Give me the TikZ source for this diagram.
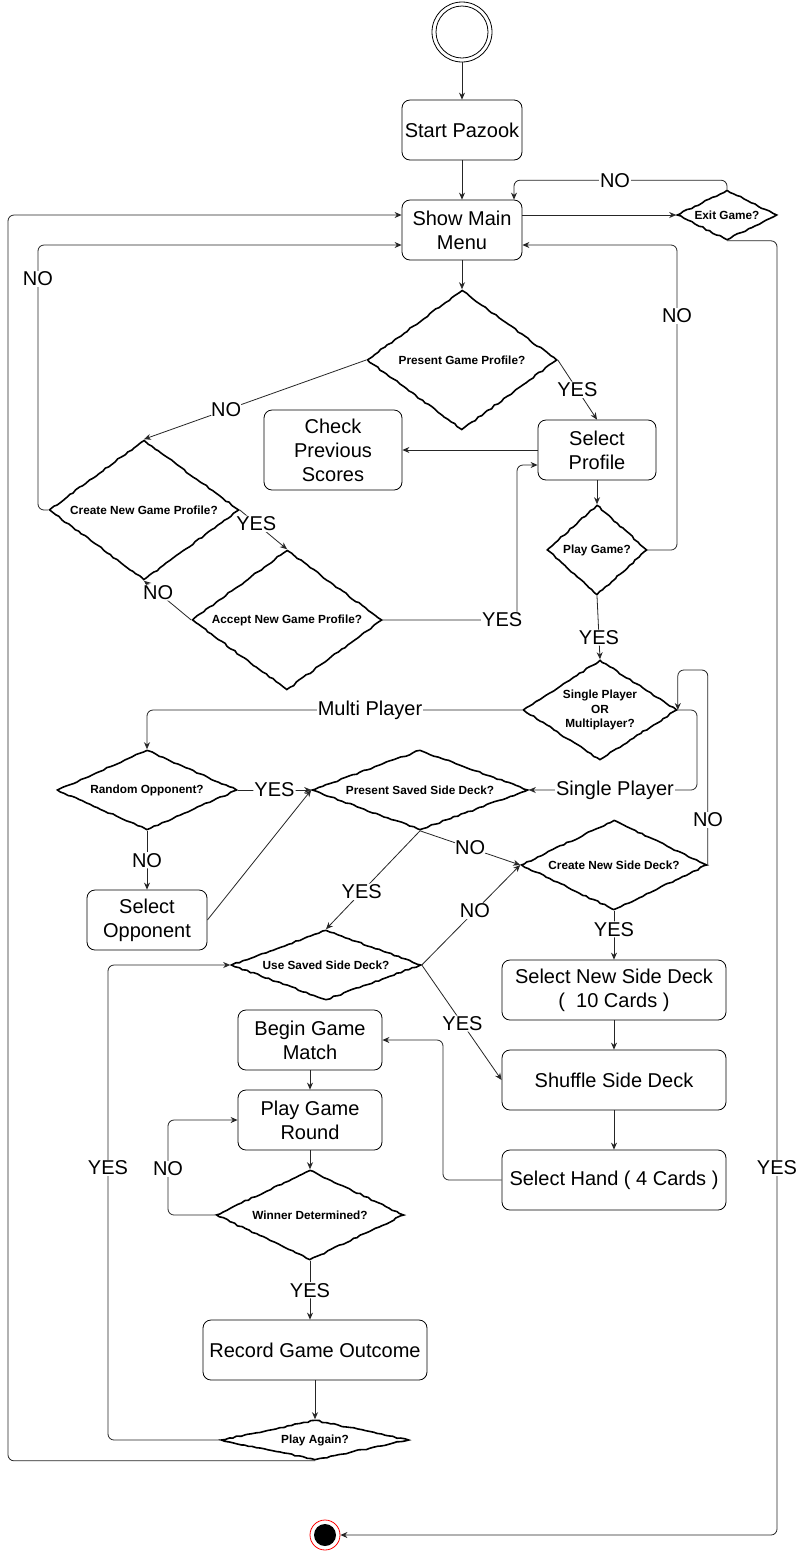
\documentclass[tikz,border=0pt]{standalone}
\usepackage{fontspec}
\setmainfont{Liberation Sans}
\usetikzlibrary{shapes.geometric,arrows.meta,decorations.pathmorphing,calc}
\begin{document}
\pgfmathsetseed{7}
\begin{tikzpicture}[x=1pt,y=-1pt,
  box/.style={draw, rounded corners=8pt, line width=0.8pt, align=center,
    font=\fontsize{20}{24}\selectfont, inner sep=0pt},
  dec/.style={diamond, draw, line width=1.6pt, align=center, inner sep=0pt,
    font=\fontsize{11.8}{14.5}\selectfont\bfseries, decorate,
    decoration={random steps,segment length=4pt,amplitude=0.75pt}},
  arr/.style={draw=black!85, line width=0.8pt, -{Stealth[length=7pt,width=6pt]}, rounded corners=6pt},
  lbl/.style={fill=white, inner sep=1pt, font=\fontsize{20}{24}\selectfont}]
\useasboundingbox (0,0) rectangle (798,1551);
\fill[white] (0,0) rectangle (798,1551);

% start / end
\node[circle, draw, line width=0.8pt, minimum size=60pt, inner sep=0pt] (start) at (462,32) {};
\draw[line width=0.8pt] (start.center) circle (26pt);
\node[circle, draw=red, line width=0.8pt, minimum size=30pt, inner sep=0pt, fill=white] (endc) at (325,1535) {};
\fill (endc.center) circle (11pt);

% nodes
\node[box, minimum width=120pt, minimum height=60pt] (pazook) at (462,130) {Start Pazook};
\node[box, minimum width=120pt, minimum height=60pt] (menu) at (462,230) {Show Main\\Menu};
\node[dec, minimum width=100pt, minimum height=50pt, aspect=2] (exit) at (727,215) {Exit Game?};
\node[dec, minimum width=190pt, minimum height=140pt, aspect=1.36] (pgp) at (462,360) {Present Game Profile?};
\node[box, minimum width=118pt, minimum height=60pt] (selprof) at (597,450) {Select\\Profile};
\node[box, minimum width=138pt, minimum height=80pt] (check) at (333,450) {Check\\Previous\\Scores};
\node[dec, minimum width=190pt, minimum height=140pt, aspect=1.36] (cngp) at (144,510) {Create New Game Profile?};
\node[dec, minimum width=190pt, minimum height=140pt, aspect=1.36] (angp) at (287,620) {Accept New Game Profile?};
\node[dec, minimum width=100pt, minimum height=90pt, aspect=1.1] (play) at (597,550) {Play Game?};
\node[dec, minimum width=154pt, minimum height=100pt, aspect=1.54] (spmp) at (600,710) {Single Player\\OR\\Multiplayer?};
\node[dec, minimum width=180pt, minimum height=80pt, aspect=2.25] (rand) at (147,790) {Random Opponent?};
\node[dec, minimum width=216pt, minimum height=80pt, aspect=2.7] (psd) at (420,790) {Present Saved Side Deck?};
\node[box, minimum width=120pt, minimum height=60pt] (selopp) at (147,920) {Select\\Opponent};
\node[dec, minimum width=186pt, minimum height=90pt, aspect=2.07] (cnsd) at (614,865) {Create New Side Deck?};
\node[dec, minimum width=190pt, minimum height=70pt, aspect=2.7] (usd) at (326,965) {Use Saved Side Deck?};
\node[box, minimum width=224pt, minimum height=60pt] (selnew) at (614,990) {Select New Side Deck\\(\ \ 10 Cards )};
\node[box, minimum width=224pt, minimum height=60pt] (shuffle) at (614,1080) {Shuffle Side Deck};
\node[box, minimum width=224pt, minimum height=60pt] (hand) at (614,1180) {Select Hand ( 4 Cards )};
\node[box, minimum width=144pt, minimum height=60pt] (begin) at (310,1040) {Begin Game\\Match};
\node[box, minimum width=144pt, minimum height=60pt] (round) at (310,1120) {Play Game\\Round};
\node[dec, minimum width=188pt, minimum height=90pt, aspect=2.1] (winner) at (310,1215) {Winner Determined?};
\node[box, minimum width=224pt, minimum height=60pt] (record) at (315,1350) {Record Game Outcome};
\node[dec, minimum width=188pt, minimum height=40pt, aspect=4.7] (again) at (315,1440) {Play Again?};

% connectors
\draw[arr] (start.south) -- (pazook.north);
\draw[arr] (pazook.south) -- (menu.north);
\draw[arr] (menu.east |- exit.west) -- (exit.west);
\draw[arr] (exit.north) -- ++(0,-9) -| ([xshift=52pt]menu.north);
\draw[arr] (exit.south) -- (exit.south -| 777,0) |- (endc.east);
\draw[arr] (again.south) -- (again.south -| 8,0) |- (menu.west |- exit.west);
\draw[arr] (cngp.west) -- (cngp.west -| 38,0) |- ([yshift=-15pt]menu.west);
\draw[arr] (play.east) -- (play.east -| 677,0) |- ([yshift=-15pt]menu.east);
\draw[arr] (menu.south) -- (pgp.north);
\draw[arr] (pgp.east) -- node[lbl]{YES} (selprof.north);
\draw[arr] (selprof.west) -- (check.east);
\draw[arr] (pgp.west) -- node[lbl,pos=0.63]{NO} (cngp.north);
\draw[arr] (cngp.east) -- node[lbl,pos=0.35]{YES} (angp.north);
\draw[arr] (angp.west) -- node[lbl,pos=0.7]{NO} (cngp.south);
\draw[arr] (angp.east) -- node[lbl,pos=0.89]{YES} (angp.east -| 517,0) |- ([yshift=-15pt]selprof.west);
\draw[arr] (selprof.south) -- (play.north);
\draw[arr] (play.south) -- node[lbl,pos=0.66]{YES} (spmp.north);
\draw[arr] (spmp.west) -| (rand.north);
\draw[arr] (rand.east) -- node[lbl]{YES} (psd.west);
\draw[arr] (spmp.east) -- (spmp.east -| 697,0) |- (psd.east);
\draw[arr] (cnsd.east) -- ++(0,-195) -| (spmp.east);
\draw[arr] (rand.south) -- node[lbl]{NO} (selopp.north);
\draw[arr] (selopp.east) -- (psd.west);
\draw[arr] (psd.south) -- node[lbl]{NO} (cnsd.west);
\draw[arr] (psd.south) -- node[lbl,pos=0.62]{YES} (usd.north);
\draw[arr] (usd.east) -- node[lbl,pos=0.54]{NO} (cnsd.west);
\draw[arr] (usd.east) -- node[lbl,pos=0.51]{YES} (shuffle.west);
\draw[arr] (cnsd.south) -- node[lbl,pos=0.38]{YES} (selnew.north);
\draw[arr] (selnew.south) -- (shuffle.north);
\draw[arr] (shuffle.south) -- (hand.north);
\draw[arr] (hand.west) -- (hand.west -| 443,0) |- (begin.east);
\draw[arr] (begin.south) -- (round.north);
\draw[arr] (round.south) -- (winner.north);
\draw[arr] (winner.west) -- (winner.west -| 168,0) |- (round.west);
\draw[arr] (winner.south) -- node[lbl]{YES} (winner.south |- record.north);
\draw[arr] (record.south) -- (again.north);
\draw[arr] (again.west) -- (again.west -| 108,0) |- (usd.west);

% free labels
\node[lbl] (l1) at (615,181) {NO};
\node[lbl] (l2) at (777,1168) {YES};
\node[lbl] (l3) at (38,279) {NO};
\node[lbl] (l4) at (677,316) {NO};
\node[lbl] (l5) at (370,710) {Multi Player};
\node[lbl] (l6) at (615,790) {Single Player};
\node[lbl] (l7) at (708,820) {NO};
\node[lbl] (l8) at (168,1169) {NO};
\node[lbl] (l9) at (108,1168) {YES};
\end{tikzpicture}
\end{document}
